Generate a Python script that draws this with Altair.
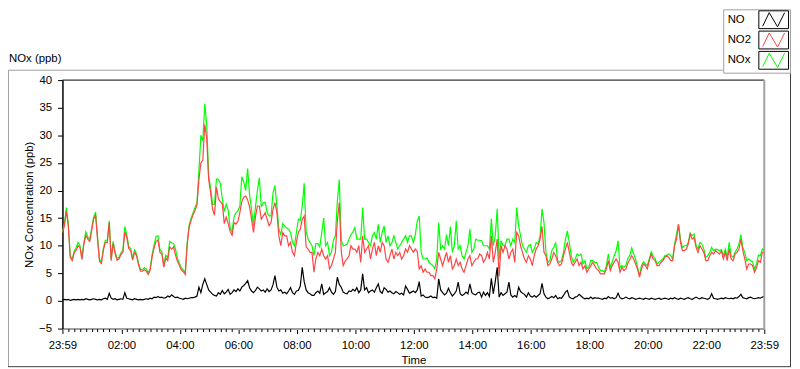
import altair as alt
import pandas as pd

# ---------------- data ----------------
SERIES = ["NO", "NO2", "NOx"]
SERIES_COLORS = ["#000000", "#ff4444", "#00ff00"]
PANEL_LABEL = "NOx (ppb)"
Y_TITLE = "NOx Concentration (ppb)"
X_TITLE = "Time"

START_MIN = -1          # 23:59 of the previous day, minutes from midnight
STEP_MIN = 4            # sampling interval of the values below (minutes)

X_TICK_MIN = [-1, 120, 240, 360, 480, 600, 720, 840, 960, 1080, 1200, 1320, 1439]
X_TICK_LABELS = ["23:59", "02:00", "04:00", "06:00", "08:00", "10:00", "12:00",
                 "14:00", "16:00", "18:00", "20:00", "22:00", "23:59"]
X_MINOR_STEP = 12
Y_TICKS = [-5, 0, 5, 10, 15, 20, 25, 30, 35, 40]
Y_DOMAIN = [-5, 40]

NO2 = [
    12.4, 13.6, 16.3, 13.6, 7.9, 7.3, 8.7, 9.2, 10.0, 9.7,
    7.5, 10.3, 11.9, 11.2, 10.8, 12.8, 14.8, 15.5, 11.2, 7.2,
    6.8, 9.2, 10.6, 10.6, 14.2, 7.3, 10.4, 8.6, 7.4, 7.6,
    8.4, 8.8, 12.5, 11.5, 9.5, 9.1, 7.4, 8.8, 8.2, 6.6,
    5.4, 5.4, 5.7, 5.4, 4.8, 5.6, 8.0, 9.6, 10.8, 11.0,
    8.8, 8.5, 6.1, 7.8, 7.3, 9.8, 9.4, 9.8, 8.3, 7.2,
    6.4, 5.6, 5.3, 4.8, 10.2, 13.4, 14.6, 15.6, 16.4, 17.4,
    22.0, 25.0, 25.5, 32.0, 29.5, 22.0, 19.6, 16.6, 15.5, 20.6,
    18.5, 18.0, 17.6, 14.0, 15.2, 14.0, 12.6, 11.9, 14.2, 13.9,
    14.4, 16.0, 18.0, 18.8, 19.0, 18.3, 17.0, 14.8, 12.4, 15.2,
    17.2, 17.2, 14.8, 15.4, 16.0, 14.8, 13.6, 14.2, 16.6, 17.8,
    16.0, 11.8, 10.0, 12.4, 11.8, 11.8, 10.0, 10.6, 8.8, 8.2,
    10.6, 12.4, 13.0, 14.8, 15.4, 9.8, 9.4, 8.8, 8.8, 5.2,
    7.6, 8.8, 8.2, 9.4, 8.2, 7.6, 8.2, 5.8, 6.4, 7.6,
    8.8, 14.5, 17.8, 9.0, 6.4, 7.2, 7.6, 8.2, 10.0, 9.4,
    9.4, 8.8, 10.0, 7.0, 11.8, 8.8, 9.4, 10.0, 7.6, 9.4,
    10.6, 8.2, 10.0, 8.8, 10.6, 10.0, 7.6, 7.0, 8.2, 9.4,
    7.6, 8.8, 8.2, 8.8, 7.6, 8.2, 9.4, 8.8, 10.0, 9.4,
    8.8, 9.4, 9.0, 5.8, 6.4, 5.2, 5.8, 5.2, 5.2, 4.6,
    4.6, 4.0, 5.8, 8.8, 7.6, 6.4, 7.6, 8.8, 7.0, 8.2,
    5.8, 6.4, 7.6, 6.4, 7.0, 5.8, 5.2, 6.4, 7.6, 8.2,
    6.4, 7.0, 7.6, 7.6, 8.5, 8.2, 7.0, 7.6, 8.8, 7.6,
    11.8, 7.0, 8.8, 11.2, 4.5, 10.0, 8.8, 10.0, 9.4, 7.6,
    8.8, 9.4, 7.0, 12.4, 11.8, 10.0, 8.8, 7.6, 7.0, 8.2,
    7.6, 6.4, 8.2, 9.4, 10.0, 11.2, 13.5, 8.8, 8.2, 6.4,
    6.7, 7.6, 8.8, 8.2, 7.0, 6.4, 6.7, 8.2, 9.4, 10.6,
    8.8, 7.0, 6.4, 7.0, 7.6, 6.4, 7.0, 5.8, 6.4, 5.2,
    5.8, 6.4, 7.0, 6.4, 5.8, 5.5, 4.9, 4.9, 4.9, 5.8,
    7.3, 5.5, 6.4, 7.0, 7.6, 7.0, 5.2, 6.1, 5.5, 5.8,
    6.8, 7.5, 8.2, 7.6, 6.7, 5.8, 4.3, 5.8, 6.7, 6.4,
    5.8, 7.3, 8.5, 7.6, 7.3, 6.4, 6.4, 7.0, 7.3, 7.9,
    8.2, 7.9, 7.3, 7.3, 10.0, 11.2, 13.9, 10.6, 9.1, 9.1,
    9.4, 10.3, 12.1, 11.2, 11.5, 9.7, 8.8, 10.0, 9.4, 8.8,
    7.3, 7.3, 8.2, 8.8, 8.5, 9.1, 8.8, 8.5, 9.1, 7.6,
    8.8, 7.3, 9.4, 7.6, 7.3, 8.5, 8.8, 9.4, 11.2, 9.1,
    7.6, 5.8, 6.7, 6.7, 6.4, 5.2, 6.0, 7.3, 7.0, 8.8, 8.8,
]

NOX = [
    12.6, 13.9, 16.9, 14.0, 8.2, 7.6, 9.0, 9.6, 10.6, 10.0,
    7.8, 10.6, 12.5, 11.6, 11.2, 13.2, 15.2, 16.1, 11.6, 7.5,
    7.1, 9.5, 11.0, 11.0, 14.5, 7.6, 10.8, 8.9, 7.7, 7.9,
    8.7, 9.2, 13.5, 12.0, 9.9, 9.5, 7.7, 9.2, 8.5, 6.9,
    5.7, 5.7, 6.0, 5.8, 5.1, 5.9, 8.4, 10.1, 11.7, 11.8,
    9.3, 8.9, 6.5, 8.3, 7.8, 10.8, 10.5, 10.4, 9.4, 7.7,
    6.8, 6.0, 5.6, 5.2, 10.6, 13.8, 15.0, 16.0, 16.9, 17.8,
    23.5, 30.0, 29.0, 35.7, 32.0, 22.6, 20.5, 17.5, 17.5, 22.1,
    22.0, 21.3, 18.5, 16.2, 17.5, 16.5, 13.2, 12.5, 15.2, 16.0,
    16.3, 17.2, 22.5, 21.5, 20.0, 24.0, 19.2, 16.6, 13.6, 17.0,
    20.0, 22.3, 17.0, 17.8, 17.8, 16.0, 15.4, 15.4, 19.6, 20.9,
    17.2, 13.0, 12.0, 14.0, 13.6, 13.2, 13.0, 12.4, 10.6, 10.0,
    12.4, 14.8, 14.6, 17.2, 21.3, 12.5, 11.2, 10.6, 10.0, 8.2,
    10.4, 10.4, 9.8, 12.4, 15.0, 10.0, 10.6, 8.2, 8.8, 11.0,
    11.8, 18.0, 22.0, 11.0, 10.0, 10.1, 10.3, 11.2, 12.0, 12.5,
    13.3, 11.2, 11.2, 11.2, 16.9, 11.2, 11.2, 10.6, 10.0, 11.8,
    12.4, 11.2, 13.9, 10.6, 12.4, 13.6, 10.6, 11.8, 10.0, 10.6,
    11.8, 10.6, 9.4, 10.0, 10.6, 11.2, 11.8, 10.6, 11.8, 11.8,
    10.6, 12.0, 14.5, 15.4, 8.8, 7.6, 7.6, 7.8, 7.0, 6.7,
    6.4, 5.8, 7.6, 14.2, 9.4, 10.0, 9.4, 12.0, 10.0, 13.5,
    8.8, 10.0, 14.5, 9.4, 10.0, 8.2, 7.6, 8.8, 10.0, 13.0,
    8.8, 9.4, 11.2, 11.0, 11.0, 10.9, 10.0, 10.0, 10.0, 9.4,
    14.9, 10.0, 11.8, 16.7, 7.5, 10.9, 10.0, 10.0, 11.2, 11.2,
    10.0, 11.2, 10.6, 16.9, 13.6, 11.8, 10.0, 9.4, 8.8, 10.0,
    10.2, 8.8, 9.4, 10.6, 10.3, 11.8, 16.7, 14.2, 8.8, 7.0,
    7.3, 9.1, 9.7, 10.6, 7.3, 7.0, 7.3, 8.8, 11.2, 12.7,
    10.6, 8.2, 7.0, 7.6, 8.5, 8.2, 8.5, 6.7, 7.3, 5.8,
    6.1, 7.3, 7.3, 7.0, 7.0, 6.1, 5.5, 5.5, 5.2, 6.4,
    8.5, 6.1, 7.0, 8.2, 9.1, 10.9, 6.0, 6.4, 6.1, 6.4,
    7.7, 8.2, 9.6, 8.5, 7.6, 6.1, 4.6, 6.4, 7.1, 6.7,
    6.4, 7.6, 8.9, 8.2, 7.6, 6.7, 7.0, 7.3, 7.6, 8.2,
    8.3, 8.5, 8.2, 7.6, 10.3, 12.1, 13.9, 11.2, 9.7, 10.0,
    10.0, 10.6, 12.3, 11.8, 12.1, 10.1, 9.4, 10.6, 10.3, 9.4,
    7.9, 8.2, 8.8, 9.7, 9.1, 9.4, 9.3, 9.1, 9.3, 8.2,
    9.4, 7.9, 10.6, 8.2, 7.9, 8.8, 9.4, 10.3, 12.0, 9.7,
    8.8, 7.3, 7.6, 7.3, 7.1, 5.8, 6.7, 8.3, 8.2, 9.4, 9.1,
]

NO = [
    0.2, 0.3, 0.2, 0.3, 0.1, 0.2, 0.3, 0.2, 0.3, 0.2,
    0.3, 0.2, 0.4, 0.3, 0.2, 0.3, 0.4, 0.3, 0.2, 0.3,
    0.2, 0.4, 0.5, 0.3, 1.4, 0.5, 0.3, 0.4, 0.2, 0.3,
    0.4, 0.3, 1.5, 0.5, 0.4, 0.3, 0.2, 0.4, 0.3, 0.2,
    0.3, 0.2, 0.3, 0.4, 0.3, 0.5, 0.4, 0.7, 0.6, 0.8,
    0.6, 0.7, 0.5, 0.6, 0.9, 0.7, 1.1, 0.8, 0.6, 0.7,
    0.5, 0.4, 0.3, 0.5, 0.4, 0.5, 0.6, 0.6, 0.7, 0.9,
    2.5, 1.5, 3.0, 4.0, 3.0, 2.0, 1.6, 1.2, 1.0, 0.9,
    1.5, 1.2, 1.9, 1.3, 1.6, 2.1, 1.2, 1.5, 2.0, 1.7,
    2.2, 1.8, 2.5, 2.8, 3.2, 3.7, 2.4, 1.8, 1.5, 1.9,
    2.5, 2.2, 1.8, 2.0, 1.6, 2.2, 1.7, 2.0, 2.9, 4.6,
    2.5, 1.8, 2.0, 1.4, 1.6, 1.3, 1.8, 2.4, 1.5, 1.2,
    1.8, 1.9, 2.7, 6.1, 3.5, 2.0, 1.5, 1.3, 1.0, 1.0,
    1.5, 1.8, 1.4, 3.1, 1.2, 1.5, 1.7, 2.4, 1.6, 1.2,
    1.7, 4.3, 3.0, 2.5, 1.6, 1.4, 1.3, 1.8, 1.7, 2.1,
    1.8, 2.4, 1.5, 2.0, 4.9, 2.0, 2.4, 1.5, 1.8, 2.0,
    1.6, 2.4, 3.1, 1.7, 1.4, 2.4, 2.1, 1.6, 1.8, 1.5,
    1.3, 1.7, 1.5, 1.2, 1.4, 1.1, 2.7, 2.1, 1.4, 1.6,
    1.8, 1.5, 2.0, 3.5, 0.9, 1.1, 0.7, 0.6, 0.7, 0.9,
    0.6, 0.7, 0.5, 4.0, 2.0, 1.5, 1.1, 1.4, 2.3, 1.5,
    0.9, 1.3, 1.8, 3.4, 1.3, 1.0, 1.2, 1.6, 1.3, 3.1,
    1.5, 1.2, 1.1, 1.5, 1.6, 0.7, 1.6, 1.0, 1.5, 0.8,
    4.1, 1.3, 3.5, 6.1, 0.7, 1.5, 1.0, 1.3, 1.6, 3.4,
    1.1, 0.7, 1.0, 0.7, 2.5, 1.7, 1.4, 1.2, 0.7, 1.5,
    0.9, 0.7, 1.0, 0.7, 1.0, 1.3, 3.2, 1.3, 0.7, 0.4,
    0.6, 0.8, 0.6, 1.0, 0.4, 0.6, 0.5, 1.0, 1.6, 1.9,
    0.7, 0.5, 0.4, 0.7, 0.8, 1.2, 0.9, 0.6, 0.4, 0.5,
    0.4, 0.7, 0.4, 0.6, 0.5, 0.5, 0.4, 0.3, 0.5, 0.4,
    0.8, 0.5, 0.6, 0.4, 0.6, 1.4, 0.6, 0.4, 0.5, 0.7,
    0.5, 0.4, 0.6, 0.5, 0.3, 0.4, 0.5, 0.4, 0.3, 0.5,
    0.4, 0.3, 0.5, 0.4, 0.3, 0.4, 0.5, 0.3, 0.4, 0.5,
    0.4, 0.3, 0.5, 0.4, 0.6, 0.4, 0.3, 0.5, 0.4, 0.3,
    0.5, 0.6, 0.4, 0.3, 0.5, 0.7, 0.5, 0.4, 0.6, 0.5,
    0.4, 0.3, 0.5, 1.3, 0.5, 0.4, 0.3, 0.4, 0.5, 0.4,
    0.6, 0.5, 0.4, 0.5, 0.4, 0.6, 0.5, 0.8, 1.2, 0.6,
    0.5, 0.4, 0.6, 0.7, 0.5, 0.4, 0.5, 0.6, 0.5, 0.7, 0.8,
]

n = len(NO2)
assert len(NOX) == n and len(NO) == n, (len(NO), len(NO2), len(NOX))
TIMES = [START_MIN + STEP_MIN * i for i in range(n)]

frames = {
    "NO": pd.DataFrame({"t": TIMES, "value": NO}),
    "NO2": pd.DataFrame({"t": TIMES, "value": NO2}),
    "NOx": pd.DataFrame({"t": TIMES, "value": NOX}),
}
color_of = dict(zip(SERIES, SERIES_COLORS))

# ---------------- layout / style ----------------
W, H = 709, 251
FONT = "Liberation Sans"
FS = 11.5
GRAY = "#a0a0a0"

label_expr = "".join(
    f"datum.value == {v} ? '{lab}' : " for v, lab in zip(X_TICK_MIN, X_TICK_LABELS)
) + "''"
minor_ticks = [START_MIN + X_MINOR_STEP * k for k in range(1, 120) if k % 10 != 0]

xs = alt.Scale(domain=[X_TICK_MIN[0], X_TICK_MIN[-1]], nice=False, zero=False)
ys = alt.Scale(domain=Y_DOMAIN, nice=False, zero=False)

x_major = alt.Axis(values=X_TICK_MIN, labelExpr=label_expr, orient="bottom",
                   tickSize=5, tickColor="#000000", tickWidth=1,
                   domainColor=GRAY, domainWidth=2,
                   labelFont=FONT, labelFontSize=FS, labelColor="#000000",
                   labelPadding=6, labelFlush=False, labelOverlap=False,
                   title=X_TITLE, titleFont=FONT, titleFontSize=FS,
                   titleFontWeight="normal", titleColor="#000000", titlePadding=4,
                   grid=False)
x_minor = alt.Axis(values=minor_ticks, orient="bottom", tickSize=3,
                   tickColor="#000000", tickWidth=1, labels=False, domain=False,
                   grid=False, title="")
y_axis = alt.Axis(values=Y_TICKS, tickSize=5, tickColor="#000000", tickWidth=1,
                  domainColor="#000000", domainWidth=1.5,
                  labelFont=FONT, labelFontSize=FS, labelColor="#000000",
                  labelPadding=6, labelFlush=False,
                  title=Y_TITLE, titleFont=FONT, titleFontSize=FS,
                  titleFontWeight="normal", titleColor="#000000", titlePadding=4,
                  grid=False)

one = pd.DataFrame({"k": [0]})


def rule(x, y, x2=None, y2=None, color=GRAY, width=1):
    enc = dict(x=alt.value(x), y=alt.value(y))
    if x2 is not None:
        enc["x2"] = alt.value(x2)
    if y2 is not None:
        enc["y2"] = alt.value(y2)
    return alt.Chart(one).mark_rule(color=color, strokeWidth=width).encode(**enc)


layers = []
# LabVIEW-style panel frame
layers.append(rule(-55, -10, x2=668, color=GRAY, width=1))
layers.append(rule(-54.5, -10, y2=289.5, color=GRAY, width=1))
layers.append(rule(-55, 289.5, x2=736, color="#404040", width=1))
layers.append(rule(735.5, -7, y2=289.5, color="#404040", width=1))
# panel label
layers.append(alt.Chart(one).mark_text(align="left", baseline="middle", font=FONT,
                                       fontSize=FS, color="#000000").encode(
    x=alt.value(-54), y=alt.value(-21), text=alt.value(PANEL_LABEL)))
# legend box
layers.append(alt.Chart(one).mark_rect(fill="white", stroke=GRAY, strokeWidth=1).encode(
    x=alt.value(668), x2=alt.value(735.5), y=alt.value(-71), y2=alt.value(-7)))
ZIGZAG = "M-0.85,0.5L-0.35,-0.55L0.3,0.55L0.85,-0.55"
for k, name in enumerate(SERIES):
    cy = -61 + 20.5 * k
    layers.append(alt.Chart(one).mark_text(align="left", baseline="middle", font=FONT,
                                           fontSize=FS, color="#000000").encode(
        x=alt.value(672), y=alt.value(cy), text=alt.value(name)))
    layers.append(alt.Chart(one).mark_rect(fill="white", stroke="#000000",
                                           strokeWidth=1).encode(
        x=alt.value(703.5), x2=alt.value(733.5), y=alt.value(cy - 9), y2=alt.value(cy + 9)))
    layers.append(alt.Chart(one).mark_point(shape=ZIGZAG, filled=False, size=676,
                                            strokeWidth=1, opacity=1,
                                            color=color_of[name]).encode(
        x=alt.value(718.5), y=alt.value(cy)))

# data lines (NOx behind, NO2, NO on top)
layers.append(alt.Chart(frames["NOx"]).mark_line(color=color_of["NOx"], strokeWidth=1.2).encode(
    x=alt.X("t:Q", scale=xs, axis=x_major),
    y=alt.Y("value:Q", scale=ys, axis=y_axis)))
layers.append(alt.Chart(frames["NO2"]).mark_line(color=color_of["NO2"], strokeWidth=1.2).encode(
    x=alt.X("t:Q", scale=xs, axis=x_minor),
    y=alt.Y("value:Q", scale=ys, axis=y_axis)))
layers.append(alt.Chart(frames["NO"]).mark_line(color=color_of["NO"], strokeWidth=1.2).encode(
    x=alt.X("t:Q", scale=xs, axis=None),
    y=alt.Y("value:Q", scale=ys, axis=y_axis)))

# plot area frame: dark top, light right
layers.append(rule(0, 0, x2=W, color="#000000", width=1))
layers.append(rule(W, 0, y2=H, color=GRAY, width=2))

chart = alt.layer(*layers).resolve_axis(x="independent").properties(
    width=W, height=H,
    padding={"left": 55, "top": 71, "right": 28, "bottom": 39},
    autosize=alt.AutoSizeParams(type="none"),
    background="white",
).configure_view(stroke="transparent")

chart.save("out.html", embed_options={"renderer": "svg", "actions": False})
